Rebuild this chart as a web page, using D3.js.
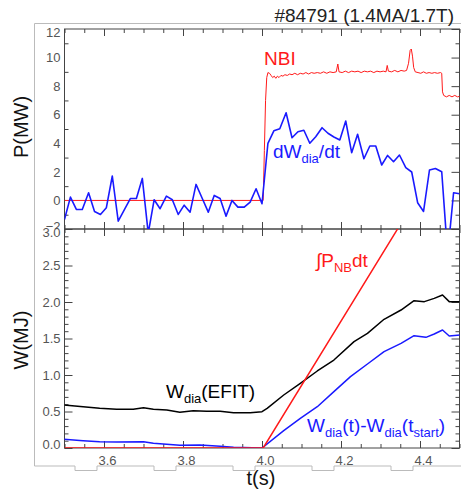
<!DOCTYPE html>
<html>
<head>
<meta charset="utf-8">
<script src="https://cdn.jsdelivr.net/npm/d3@7"></script>
<style>
  body { margin: 0; background: #fff; }
  svg { display: block; }
  text { font-family: "Liberation Sans", Arial, sans-serif; }
  .tick line { stroke: #444; }
  .tick text { fill: #555; font-size: 13px; }
</style>
</head>
<body>
<svg id="chart" width="461" height="494"></svg>
<script>
// ---- data ----
const title = "#84791 (1.4MA/1.7T)";

// NBI power (MW)
const nbiT = [3.5, 4.003, 4.006, 4.009, 4.012, 4.015, 4.019, 4.023, 4.027, 4.031, 4.035, 4.039, 4.043,
  4.048, 4.053, 4.058, 4.064, 4.07, 4.076, 4.083, 4.09, 4.097, 4.104, 4.111, 4.118, 4.125, 4.132,
  4.14, 4.148, 4.156, 4.164, 4.172, 4.18, 4.188, 4.192, 4.195, 4.203, 4.211, 4.219, 4.227, 4.235,
  4.243, 4.251, 4.259, 4.267, 4.275, 4.283, 4.291, 4.299, 4.307, 4.314, 4.317, 4.32, 4.328, 4.336,
  4.344, 4.352, 4.36, 4.366, 4.371, 4.375, 4.378, 4.381, 4.384, 4.388, 4.395, 4.402, 4.409, 4.416,
  4.423, 4.43, 4.437, 4.444, 4.452, 4.455, 4.457, 4.46, 4.467, 4.474, 4.481, 4.488, 4.495, 4.502];
const nbiP = [0, 0, 3.5, 7.0, 8.6, 8.95, 8.9, 8.75, 8.6, 8.7, 8.55, 8.7, 8.6,
  8.75, 8.7, 8.8, 8.75, 8.85, 8.8, 8.9, 8.8, 8.9, 8.85, 8.95, 8.85, 8.95, 8.9,
  8.95, 8.9, 9.0, 8.9, 9.0, 8.95, 9.0, 9.55, 9.0, 8.95, 9.05, 8.95, 9.05, 9.0,
  9.05, 8.95, 9.05, 9.0, 9.05, 8.95, 9.05, 9.0, 9.05, 9.0, 9.45, 9.05, 9.0, 9.1,
  9.0, 9.1, 9.05, 9.1, 9.6, 10.5, 10.6, 10.1, 9.3, 9.0, 8.95, 8.9, 9.0, 8.9,
  8.95, 8.9, 8.95, 8.9, 8.95, 8.9, 7.6, 7.35, 7.25, 7.35, 7.25, 7.35, 7.25, 7.3];

// dW_dia/dt (MW)
const dwT = [3.500, 3.515, 3.530, 3.545, 3.561, 3.576, 3.591, 3.606, 3.621, 3.636, 3.652, 3.667,
  3.682, 3.697, 3.712, 3.727, 3.742, 3.758, 3.773, 3.788, 3.803, 3.818, 3.833, 3.848, 3.864, 3.879,
  3.894, 3.909, 3.924, 3.939, 3.955, 3.970, 3.985, 4.000, 4.015, 4.030, 4.045, 4.061, 4.076, 4.091,
  4.106, 4.121, 4.136, 4.152, 4.167, 4.182, 4.197, 4.212, 4.227, 4.242, 4.258, 4.273, 4.288, 4.303,
  4.318, 4.333, 4.348, 4.364, 4.379, 4.394, 4.409, 4.424, 4.439, 4.455, 4.470, 4.485, 4.500];
const dwP = [-1.33, 0.23, -0.63, -0.63, 0.54, -0.77, -0.98, -0.51, 1.71, -1.45, -0.63, 0.14,
  0.14, 1.54, -2.3, 0.05, -0.58, 0.30, 0.05, -0.98, -0.33, -0.82, 1.12, 0.19, -0.82, 0.35,
  0.14, -1.1, 0.0, -0.47, -0.47, -0.12, 0.82, -0.23, 4.0, 4.87, 5.02, 6.14, 4.39, 4.81,
  4.91, 4.0, 4.46, 5.09, 4.7, 4.44, 4.23, 5.56, 3.34, 4.63, 2.92, 3.81, 3.81, 2.48,
  3.15, 2.71, 3.18, 2.29, 1.99, -0.16, -0.77, 2.13, 2.24, 2.01, -3.8, 0.54, 0.47];

// W_dia (EFIT) (MJ)
const efitT = [3.498, 3.547, 3.589, 3.632, 3.674, 3.7, 3.725, 3.759, 3.792, 3.826, 3.86, 3.894,
  3.928, 3.97, 4.0, 4.013, 4.055, 4.097, 4.14, 4.182, 4.233, 4.267, 4.309, 4.352, 4.385, 4.411,
  4.436, 4.457, 4.474, 4.504];
const efitW = [0.589, 0.566, 0.543, 0.53, 0.53, 0.552, 0.53, 0.52, 0.489, 0.511, 0.502, 0.502,
  0.484, 0.484, 0.498, 0.543, 0.726, 0.886, 1.055, 1.205, 1.457, 1.571, 1.763, 1.89, 2.018, 2.005,
  2.05, 2.096, 2.005, 2.005];

// W_dia(t) - W_dia(t_start) (MJ)
const dWdiaT = [3.498, 3.547, 3.589, 3.632, 3.7, 3.725, 3.792, 3.843, 3.894, 3.928, 4.0, 4.055,
  4.097, 4.14, 4.182, 4.224, 4.267, 4.309, 4.352, 4.385, 4.415, 4.436, 4.457, 4.474, 4.504];
const dWdiaW = [0.119, 0.1, 0.087, 0.083, 0.087, 0.064, 0.037, 0.041, 0.023, 0.009, 0, 0.237,
  0.406, 0.566, 0.772, 0.977, 1.151, 1.32, 1.434, 1.539, 1.516, 1.562, 1.616, 1.534, 1.548];

// integral of P_NB (MJ)
const intT = [3.5, 4.003, 4.35];
const intW = [0, 0, 3.06];

const xMajor = [3.6, 3.8, 4.0, 4.2, 4.4];
const pMajor = [-2, 0, 2, 4, 6, 8, 10, 12];
const wMajor = [0.0, 0.5, 1.0, 1.5, 2.0, 2.5, 3.0];

// ---- layout ----
const svg = d3.select("#chart");
const x = d3.scaleLinear().domain([3.5, 4.5]).range([64.5, 459.5]);
const yP = d3.scaleLinear().domain([-2, 12]).range([229, 29]);
const yW = d3.scaleLinear().domain([0, 3]).range([448, 229]);

const xMinor = d3.range(3.5, 4.501, 0.05).filter(v => !xMajor.some(m => Math.abs(m - v) < 1e-6));
const pMinor = d3.range(-2, 12.01, 1).filter(v => !pMajor.includes(v));
const wMinor = d3.range(0, 3.001, 0.1).filter(v => !wMajor.some(m => Math.abs(m - v) < 1e-6));

// outer light frame with the little notches under the tick labels
(function outerFrame() {
  let d = "M461,23.5 H34.5 V466";
  xMajor.forEach(v => {
    const a = x(v) - 29, b = x(v) - 7;
    d += ` H${a} V470.5 H${b} V466`;
  });
  d += " H461";
  svg.append("path").attr("d", d).attr("fill", "none").attr("stroke", "#bbb").attr("stroke-width", 1);
})();

svg.append("text")
  .attr("x", 454).attr("y", 22)
  .attr("text-anchor", "end")
  .attr("font-size", 19).attr("fill", "#222")
  .text(title);

const defs = svg.append("defs");
function clip(id, yS) {
  const [b, t] = yS.range();
  defs.append("clipPath").attr("id", id).append("rect")
    .attr("x", x.range()[0]).attr("y", t)
    .attr("width", x.range()[1] - x.range()[0]).attr("height", b - t);
}
clip("clipP", yP);
clip("clipW", yW);
// labels of top panel must not spill into the lower one
defs.append("clipPath").attr("id", "clipPlab").append("rect")
  .attr("x", 0).attr("y", 0).attr("width", 64).attr("height", 229);

function panel(yS, yMaj, yMin, yFmt, withX) {
  const g = svg.append("g");
  const [b, t] = yS.range();
  const [l, r] = x.range();

  const ax = (gen, tr, vals, size, fmt, pad) => {
    const a = g.append("g").append("g").attr("transform", tr)
      .call(gen.tickValues(vals).tickSize(-size).tickPadding(pad || 3).tickFormat(fmt || ""));
    a.select(".domain").remove();
    return a;
  };
  ax(d3.axisBottom(x), `translate(0,${b})`, xMinor, 4);
  const xa = ax(d3.axisBottom(x), `translate(0,${b})`, xMajor, 7, withX ? d3.format(".1f") : "", 8);
  xa.selectAll("text").attr("dx", 3);
  ax(d3.axisTop(x), `translate(0,${t})`, xMinor, 4);
  ax(d3.axisTop(x), `translate(0,${t})`, xMajor, 7);
  ax(d3.axisLeft(yS), `translate(${l},0)`, yMin, 4);
  const ya = ax(d3.axisLeft(yS), `translate(${l},0)`, yMaj, 8, yFmt, 4);
  ax(d3.axisRight(yS), `translate(${r},0)`, yMin, 4);
  ax(d3.axisRight(yS), `translate(${r},0)`, yMaj, 8);

  g.append("rect").attr("x", l).attr("y", t).attr("width", r - l).attr("height", b - t)
    .attr("fill", "none").attr("stroke", "#444");
  return ya;
}

const yaP = panel(yP, pMajor, pMinor, d => d < 0 ? "\u22122" : d3.format("d")(d), false);
// clip applied on the untransformed wrapper group
d3.select(yaP.node().parentNode).attr("clip-path", "url(#clipPlab)");
yaP.selectAll(".tick").filter(d => d === 12).select("text").attr("dy", "0.55em");
yaP.selectAll(".tick").filter(d => d === -2).select("text").attr("dy", "0.1em");
const yaW = panel(yW, wMajor, wMinor, d3.format(".1f"), true);
yaW.selectAll(".tick").filter(d => d === 0).select("text").attr("dy", "0.05em");
yaW.selectAll(".tick").filter(d => d === 3).select("text").attr("dy", "0.58em");

// ---- lines ----
function series(ts, vs, yS, color, w, clipId) {
  const pts = ts.map((t, i) => [t, vs[i]]);
  svg.append("path").datum(pts)
    .attr("clip-path", `url(#${clipId})`)
    .attr("fill", "none").attr("stroke", color).attr("stroke-width", w)
    .attr("stroke-linejoin", "round")
    .attr("d", d3.line().x(d => x(d[0])).y(d => yS(d[1])));
}
series(nbiT, nbiP, yP, "#ff1a1a", 1, "clipP");
series(dwT, dwP, yP, "#1a1aff", 1.6, "clipP");
series(efitT, efitW, yW, "#000", 1.5, "clipW");
series(dWdiaT, dWdiaW, yW, "#1a1aff", 1.5, "clipW");
series(intT, intW, yW, "#ff1a1a", 1.5, "clipW");

// ---- annotations ----
function label(xp, yp, color, parts) {
  const t = svg.append("text").attr("x", xp).attr("y", yp).attr("fill", color).attr("font-size", 19);
  let sub = false;
  parts.forEach(([s, isSub]) => {
    const dy = isSub && !sub ? 5 : (!isSub && sub ? -5 : 0);
    t.append("tspan").attr("dy", dy).attr("font-size", isSub ? 13 : 19).text(s);
    sub = isSub;
  });
}
label(264, 65, "#ff1a1a", [["NBI"]]);
label(273, 158, "#1a1aff", [["dW"], ["dia", true], ["/dt"]]);
label(316, 267, "#ff1a1a", [["\u222BP"], ["NB", true], ["dt"]]);
label(166, 398, "#000", [["W"], ["dia", true], ["(EFIT)"]]);
label(307, 432, "#1a1aff", [["W"], ["dia", true], ["(t)-W"], ["dia", true], ["(t"], ["start", true], [")"]]);

// axis titles
svg.append("text").attr("transform", "translate(28,127) rotate(-90)")
  .attr("text-anchor", "middle").attr("font-size", 20).attr("fill", "#111").text("P(MW)");
svg.append("text").attr("transform", "translate(28,340) rotate(-90)")
  .attr("text-anchor", "middle").attr("font-size", 20).attr("fill", "#111").text("W(MJ)");
svg.append("text").attr("x", 261).attr("y", 485)
  .attr("text-anchor", "middle").attr("font-size", 20).attr("fill", "#111").text("t(s)");
</script>
</body>
</html>
